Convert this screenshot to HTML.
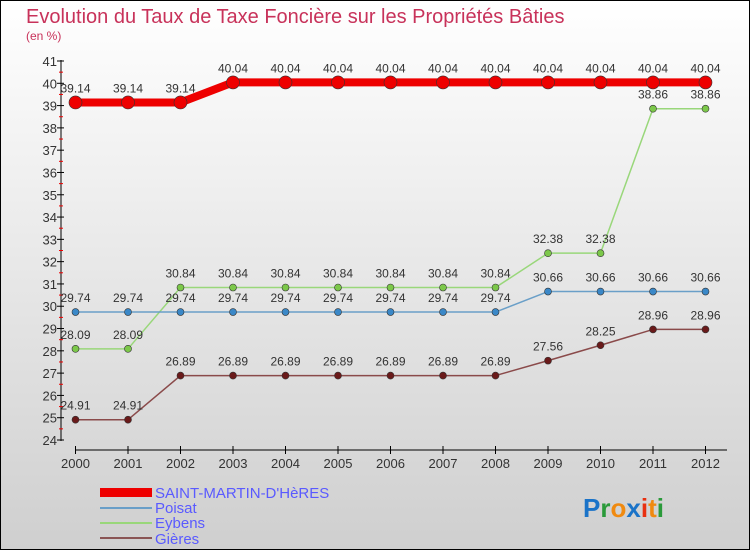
<!DOCTYPE html>
<html><head><meta charset="utf-8"><style>
body{margin:0}
#c{position:relative;width:750px;height:550px;box-sizing:border-box;border:1px solid #000;background:linear-gradient(#fff,#cfcfcf);font-family:"Liberation Sans",sans-serif;overflow:hidden}
</style></head><body>
<div id="c">
<svg width="750" height="550" style="position:absolute;left:-1px;top:-1px" id="svg">
<text x="26" y="23" font-size="20" fill="#c8325a">Evolution du Taux de Taxe Foncière sur les Propriétés Bâties</text>
<text x="26" y="40" font-size="12" fill="#c8325a">(en %)</text>
<g id="axes"></g><g id="series"></g>
<g>
<rect x="100" y="488" width="52" height="9" fill="#e00"/>
<text x="155" y="498" font-size="15" fill="#5a5aff">SAINT-MARTIN-D'HèRES</text>
<rect x="100" y="507" width="52" height="2" fill="#6a9fc8"/>
<text x="155" y="513" font-size="15" fill="#5a5aff">Poisat</text>
<rect x="100" y="522" width="52" height="2" fill="#99d77a"/>
<text x="155" y="528" font-size="15" fill="#5a5aff">Eybens</text>
<rect x="100" y="537" width="52" height="2" fill="#8a5555"/>
<text x="155" y="544" font-size="15" fill="#5a5aff">Gières</text>
</g>
<text x="583" y="517" font-size="26" font-weight="bold"><tspan fill="#1a73c8">P</tspan><tspan fill="#2a9a3a">r</tspan><tspan fill="#f08a10">o</tspan><tspan fill="#1a73c8">x</tspan><tspan fill="#e83010">i</tspan><tspan fill="#f08a10">t</tspan><tspan fill="#2a9a3a">i</tspan></text>
</svg>
</div>
<script>
const years=[2000,2001,2002,2003,2004,2005,2006,2007,2008,2009,2010,2011,2012];
const smh=[39.14,39.14,39.14,40.04,40.04,40.04,40.04,40.04,40.04,40.04,40.04,40.04,40.04];
const poisat=[29.74,29.74,29.74,29.74,29.74,29.74,29.74,29.74,29.74,30.66,30.66,30.66,30.66];
const eybens=[28.09,28.09,30.84,30.84,30.84,30.84,30.84,30.84,30.84,32.38,32.38,38.86,38.86];
const gieres=[24.91,24.91,26.89,26.89,26.89,26.89,26.89,26.89,26.89,27.56,28.25,28.96,28.96];
const yTicks=[24,25,26,27,28,29,30,31,32,33,34,35,36,37,38,39,40,41];
const NS='http://www.w3.org/2000/svg';
const xS=i=>75.5+i*52.5;
const yS=v=>440-(v-24)*(379/17);
function mk(t,a,p){const e=document.createElementNS(NS,t);for(const k in a)e.setAttribute(k,a[k]);p.appendChild(e);return e;}
const ax=document.getElementById('axes');
let l=mk('line',{x1:61,y1:60,x2:61,y2:441,stroke:'#000'},ax);


yTicks.forEach(v=>{
 mk('line',{x1:57,x2:64,y1:yS(v),y2:yS(v),stroke:'#000'},ax);
 if(v<41)mk('line',{x1:59,x2:63,y1:yS(v+0.5),y2:yS(v+0.5),stroke:'#e00'},ax);
 const t=mk('text',{x:57,y:yS(v)+5,'font-size':13,fill:'#333','text-anchor':'end'},ax);t.textContent=v;
 
 
});
l=mk('line',{x1:75,y1:450,x2:727,y2:450,stroke:'#000'},ax);


years.forEach((y,i)=>{
 mk('line',{x1:xS(i),x2:xS(i),y1:446,y2:454,stroke:'#000'},ax);
 const t=mk('text',{x:xS(i),y:468,'font-size':13,fill:'#333','text-anchor':'middle'},ax);t.textContent=y;
 
 
});
const sg=document.getElementById('series');
function series(vals,name,col,dot,w,r){
 const g=mk('g',{},sg);
 
 
 const p=mk('polyline',{points:vals.map((v,i)=>xS(i)+','+yS(v)).join(' '),fill:'none',stroke:col,'stroke-width':w,'stroke-linejoin':'round'},g);
 
 
 vals.forEach((v,i)=>{
  const c=mk('circle',{cx:xS(i),cy:yS(v),r:r,fill:dot,stroke:'#333','stroke-width':0.6},g);
  
  
  const t=mk('text',{x:xS(i),y:yS(v)-10,'font-size':12,fill:'#333','text-anchor':'middle'},g);
  t.textContent=(''+v.toFixed(2)).replace('.',name==='saint-martin'&&v>40?'':'.');
  if(name==='saint-martin'&&v>40)t.textContent='40.04';
  
  
 });
}
series(gieres,'gieres','#8a4a4a','#6a1a1a',1.5,3.5);
series(eybens,'eybens','#99d77a','#7cc84a',1.5,3.5);
series(poisat,'poisat','#6a9fc8','#3a88c8',1.5,3.5);
series(smh,'saint-martin','#e00','#e00',8,6.5);
</script>
</body></html>
